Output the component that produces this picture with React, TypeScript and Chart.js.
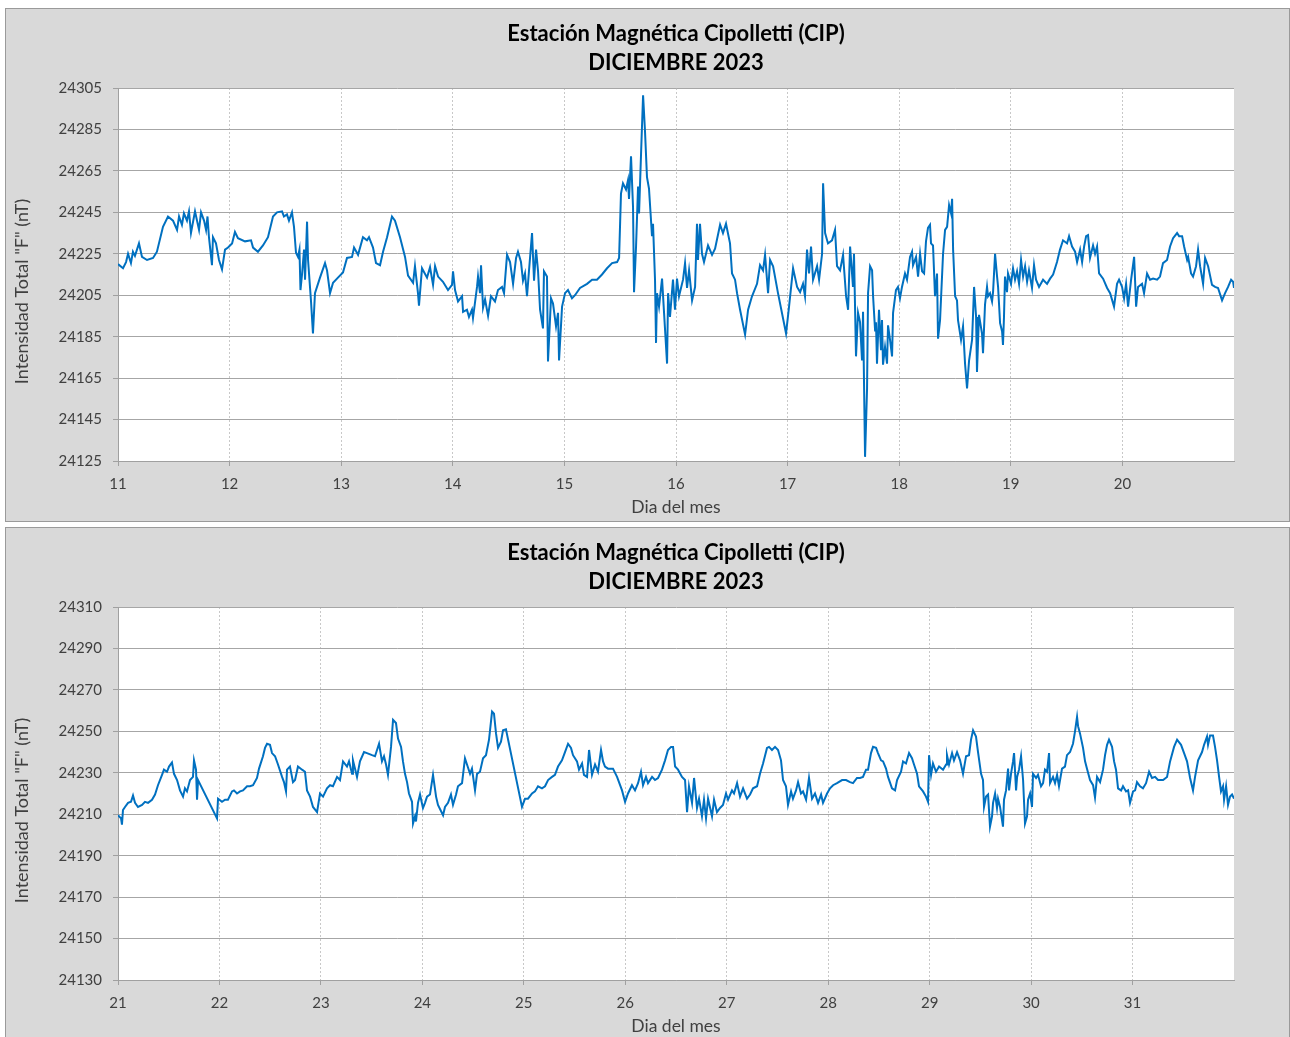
import React, { useEffect, useRef } from "react";
import { Chart, registerables } from "chart.js";

Chart.register(...registerables);

const TITLE_LINES = ["Estación Magnética Cipolletti (CIP)", "DICIEMBRE 2023"];
const X_TITLE = "Dia del mes";
const Y_TITLE = 'Intensidad Total "F" (nT)';

// Top panel: day of month (11..21) and total field F (nT)
const TOP_X_RANGE = [11, 21];
const TOP_Y_RANGE = [24125, 24305];
const topReadings: [number, number][] = [
  [11.0, 24220], [11.045, 24218], [11.072, 24221], [11.09, 24225], [11.116, 24220.5], [11.134, 24226], [11.152, 24224], [11.188, 24230], [11.215, 24223.5], [11.26, 24222],
  [11.314, 24223], [11.349, 24226], [11.403, 24238], [11.448, 24243], [11.493, 24241], [11.529, 24236.5], [11.547, 24243], [11.573, 24239], [11.591, 24244.5], [11.618, 24241],
  [11.636, 24245.5], [11.654, 24235], [11.69, 24245.5], [11.726, 24236.5], [11.744, 24245], [11.771, 24241], [11.789, 24236.5], [11.802, 24243], [11.815, 24233], [11.842, 24219.5],
  [11.851, 24233], [11.878, 24230], [11.905, 24222], [11.932, 24217.5], [11.959, 24227], [11.986, 24228], [12.022, 24230], [12.048, 24235.5], [12.075, 24232.5], [12.138, 24231],
  [12.192, 24231.5], [12.21, 24228], [12.254, 24226], [12.299, 24229], [12.344, 24233], [12.389, 24243], [12.425, 24245], [12.47, 24245.5], [12.487, 24243], [12.514, 24244],
  [12.532, 24241], [12.559, 24245], [12.577, 24238], [12.595, 24225.5], [12.613, 24223.5], [12.626, 24227], [12.635, 24207.5], [12.649, 24215], [12.667, 24227], [12.676, 24212.5],
  [12.694, 24240.5], [12.703, 24222], [12.729, 24202.5], [12.747, 24186.5], [12.765, 24206], [12.81, 24213.5], [12.855, 24220.5], [12.873, 24217], [12.9, 24206], [12.927, 24211],
  [12.971, 24213.5], [13.016, 24216], [13.052, 24223], [13.097, 24223.5], [13.115, 24228], [13.151, 24224.5], [13.195, 24233], [13.231, 24231.5], [13.249, 24233], [13.285, 24228],
  [13.312, 24220.5], [13.348, 24219.5], [13.375, 24226], [13.411, 24233], [13.455, 24243], [13.482, 24241], [13.527, 24233], [13.572, 24223.5], [13.599, 24214.5], [13.644, 24211],
  [13.661, 24219], [13.688, 24206], [13.697, 24200], [13.724, 24218], [13.769, 24213.5], [13.796, 24218.5], [13.823, 24210], [13.841, 24219], [13.868, 24214], [13.912, 24211.5],
  [13.957, 24207.5], [13.993, 24210], [14.002, 24216.5], [14.02, 24207.5], [14.047, 24202], [14.083, 24204.5], [14.092, 24197], [14.127, 24198], [14.145, 24194.5], [14.172, 24198],
  [14.181, 24194], [14.217, 24209], [14.226, 24214], [14.244, 24206], [14.253, 24219.5], [14.271, 24199], [14.289, 24203], [14.316, 24195], [14.342, 24204.5], [14.378, 24202],
  [14.405, 24207.5], [14.441, 24209], [14.459, 24206], [14.486, 24224.5], [14.513, 24221], [14.54, 24210.5], [14.567, 24223], [14.584, 24226], [14.611, 24221], [14.629, 24212],
  [14.647, 24215.5], [14.665, 24204.5], [14.683, 24217], [14.71, 24235], [14.728, 24212], [14.746, 24227], [14.764, 24216.5], [14.782, 24198], [14.808, 24189], [14.817, 24216.5],
  [14.844, 24214], [14.853, 24173], [14.88, 24203.5], [14.898, 24201], [14.925, 24190], [14.943, 24196.5], [14.952, 24173.5], [14.979, 24199.5], [15.006, 24206], [15.032, 24207.5],
  [15.068, 24203.5], [15.095, 24205], [15.14, 24208.5], [15.203, 24210.5], [15.248, 24212.5], [15.292, 24212.5], [15.337, 24215], [15.382, 24218], [15.427, 24220.5], [15.472, 24221],
  [15.49, 24223], [15.507, 24254], [15.525, 24259], [15.552, 24256], [15.57, 24260.5], [15.579, 24251.5], [15.597, 24272], [15.615, 24247.5], [15.624, 24206.5], [15.642, 24228.5],
  [15.66, 24257.5], [15.669, 24244.5], [15.687, 24273.5], [15.705, 24301.5], [15.722, 24284.5], [15.74, 24262], [15.758, 24256.5], [15.785, 24233.5], [15.794, 24239.5], [15.812, 24212.5],
  [15.821, 24182], [15.83, 24206], [15.848, 24199.5], [15.875, 24213], [15.893, 24196.5], [15.92, 24172], [15.929, 24206], [15.946, 24194.5], [15.973, 24212.5], [15.991, 24198],
  [16.009, 24213], [16.027, 24204.5], [16.063, 24212.5], [16.081, 24220.5], [16.099, 24208.5], [16.117, 24217], [16.144, 24202.5], [16.171, 24209], [16.188, 24239.5], [16.197, 24222],
  [16.215, 24239.5], [16.233, 24225], [16.251, 24221], [16.287, 24229], [16.323, 24224.5], [16.35, 24227.5], [16.395, 24239], [16.421, 24235], [16.448, 24239.5], [16.484, 24230],
  [16.502, 24215.5], [16.529, 24212.5], [16.547, 24206], [16.574, 24198], [16.619, 24186], [16.646, 24198], [16.681, 24204.5], [16.726, 24210.5], [16.753, 24219.5], [16.78, 24217],
  [16.798, 24224.5], [16.825, 24206], [16.843, 24222], [16.87, 24219], [16.914, 24206], [16.986, 24186.5], [17.013, 24199.5], [17.049, 24218], [17.085, 24209], [17.112, 24206.5],
  [17.138, 24210.5], [17.156, 24204.5], [17.174, 24227], [17.192, 24215.5], [17.21, 24228.5], [17.228, 24212.5], [17.264, 24219], [17.282, 24212.5], [17.309, 24225], [17.318, 24259],
  [17.336, 24235], [17.362, 24230], [17.398, 24231.5], [17.425, 24236.5], [17.443, 24219], [17.47, 24217], [17.497, 24224.5], [17.524, 24204.5], [17.542, 24198], [17.56, 24228.5],
  [17.586, 24209], [17.595, 24225], [17.613, 24175.5], [17.631, 24196.5], [17.649, 24192], [17.667, 24173.5], [17.676, 24197], [17.694, 24127], [17.712, 24160], [17.721, 24206],
  [17.739, 24219], [17.757, 24217], [17.766, 24204.5], [17.784, 24188], [17.792, 24192], [17.801, 24172], [17.819, 24198], [17.837, 24178.5], [17.846, 24193], [17.855, 24171.5],
  [17.873, 24180], [17.891, 24172], [17.9, 24190.5], [17.918, 24183.5], [17.936, 24175.5], [17.945, 24196.5], [17.971, 24207.5], [17.989, 24209], [18.007, 24203.5], [18.025, 24209],
  [18.052, 24215.5], [18.07, 24212.5], [18.097, 24223.5], [18.115, 24226], [18.124, 24219.5], [18.151, 24223.5], [18.169, 24214], [18.187, 24225], [18.205, 24216.5], [18.223, 24215.5],
  [18.24, 24231], [18.258, 24237.5], [18.276, 24239], [18.285, 24230], [18.303, 24229], [18.321, 24204.5], [18.339, 24215.5], [18.348, 24184], [18.366, 24193], [18.393, 24225],
  [18.411, 24236.5], [18.429, 24238], [18.447, 24248.5], [18.465, 24244.5], [18.474, 24251.5], [18.483, 24227], [18.501, 24204.5], [18.518, 24202.5], [18.527, 24193], [18.554, 24183.5],
  [18.572, 24190], [18.59, 24172], [18.608, 24160], [18.626, 24173.5], [18.653, 24183.5], [18.671, 24209], [18.689, 24194.5], [18.697, 24168], [18.715, 24195.5], [18.742, 24186.5],
  [18.751, 24177], [18.769, 24200.5], [18.787, 24209], [18.796, 24204.5], [18.814, 24206], [18.832, 24202], [18.841, 24206.5], [18.859, 24225], [18.877, 24214], [18.886, 24209],
  [18.904, 24191.5], [18.922, 24187.5], [18.93, 24181], [18.939, 24194.5], [18.948, 24214], [18.966, 24206.5], [18.975, 24215.5], [19.002, 24210.5], [19.02, 24218], [19.038, 24212.5],
  [19.056, 24216.5], [19.074, 24210.5], [19.092, 24222], [19.11, 24214], [19.128, 24219], [19.146, 24211.5], [19.163, 24217], [19.19, 24208.5], [19.208, 24219.5], [19.226, 24212.5],
  [19.253, 24209], [19.289, 24212.5], [19.325, 24210.5], [19.352, 24213], [19.379, 24215], [19.414, 24221], [19.441, 24227], [19.468, 24231.5], [19.504, 24230], [19.522, 24233.5],
  [19.549, 24228.5], [19.576, 24226], [19.594, 24221], [19.621, 24227], [19.639, 24221], [19.657, 24228.5], [19.675, 24233.5], [19.692, 24234], [19.71, 24223], [19.737, 24229],
  [19.755, 24225], [19.773, 24228.5], [19.791, 24215.5], [19.827, 24213], [19.863, 24208.5], [19.89, 24206], [19.925, 24199.5], [19.952, 24210.5], [19.97, 24212.5], [19.997, 24209],
  [20.015, 24203.5], [20.033, 24210.5], [20.051, 24199.5], [20.078, 24212.5], [20.105, 24223.5], [20.123, 24199.5], [20.14, 24209], [20.176, 24210.5], [20.194, 24206], [20.221, 24215.5],
  [20.248, 24212.5], [20.275, 24213], [20.311, 24212.5], [20.337, 24214], [20.364, 24220.5], [20.4, 24222], [20.427, 24228.5], [20.454, 24232.5], [20.49, 24235], [20.508, 24233.5],
  [20.535, 24233.5], [20.553, 24228.5], [20.58, 24222], [20.589, 24223.5], [20.615, 24215.5], [20.633, 24214], [20.66, 24219], [20.678, 24227], [20.696, 24219], [20.723, 24210.5],
  [20.741, 24223], [20.768, 24219], [20.803, 24210], [20.83, 24209], [20.857, 24208.5], [20.893, 24202.5], [20.92, 24206], [20.947, 24209], [20.974, 24212.5], [20.992, 24211.5],
  [21.0, 24208.5],
];

// Bottom panel: day of month (21..32) and total field F (nT)
const BOTTOM_X_RANGE = [21, 32];
const BOTTOM_Y_RANGE = [24130, 24310];
const bottomReadings: [number, number][] = [
  [21.0, 24209.5], [21.03, 24208], [21.039, 24205], [21.049, 24212], [21.069, 24213.5], [21.099, 24215.5], [21.128, 24216], [21.148, 24219], [21.168, 24215.5], [21.197, 24213.5],
  [21.237, 24214.5], [21.266, 24216], [21.296, 24215.5], [21.335, 24217], [21.365, 24219.5], [21.394, 24224], [21.434, 24229], [21.453, 24231.5], [21.483, 24230.5], [21.503, 24233],
  [21.532, 24235], [21.552, 24229.5], [21.582, 24226.5], [21.611, 24221.5], [21.641, 24218.5], [21.66, 24222.5], [21.68, 24221], [21.71, 24226.5], [21.739, 24228], [21.749, 24236],
  [21.769, 24231.5], [21.779, 24217], [21.789, 24226.5], [21.976, 24208], [21.986, 24217.5], [22.025, 24216], [22.055, 24217], [22.084, 24217], [22.124, 24221], [22.143, 24221.5],
  [22.173, 24220], [22.203, 24221], [22.232, 24221.5], [22.272, 24223.5], [22.301, 24223.5], [22.331, 24224], [22.37, 24227.5], [22.39, 24232], [22.429, 24238], [22.449, 24242],
  [22.469, 24244], [22.498, 24243.5], [22.518, 24239.5], [22.548, 24238], [22.577, 24234], [22.617, 24228], [22.636, 24225.5], [22.656, 24221], [22.666, 24231.5], [22.695, 24233],
  [22.725, 24225.5], [22.745, 24226.5], [22.774, 24233], [22.814, 24231.5], [22.843, 24230.5], [22.863, 24221.5], [22.893, 24218.5], [22.922, 24213.5], [22.962, 24211], [22.991, 24220],
  [23.021, 24218.5], [23.06, 24222.5], [23.09, 24224], [23.119, 24223.5], [23.159, 24228], [23.188, 24226.5], [23.218, 24235.5], [23.257, 24233], [23.277, 24235.5], [23.307, 24229.5],
  [23.316, 24236], [23.356, 24228], [23.385, 24235.5], [23.425, 24240], [23.454, 24239.5], [23.504, 24238.5], [23.533, 24238], [23.553, 24241], [23.573, 24244], [23.602, 24235.5],
  [23.622, 24238], [23.642, 24234], [23.661, 24229], [23.691, 24242.5], [23.711, 24255.5], [23.74, 24254], [23.76, 24246.5], [23.79, 24242.5], [23.809, 24235.5], [23.829, 24229.5],
  [23.849, 24225.5], [23.868, 24220], [23.898, 24216], [23.908, 24205.5], [23.928, 24209], [23.937, 24206.5], [23.957, 24215.5], [23.977, 24219.5], [24.006, 24213], [24.026, 24215.5],
  [24.046, 24218.5], [24.075, 24219.5], [24.105, 24229], [24.135, 24218.5], [24.154, 24214.5], [24.204, 24209.5], [24.223, 24213.5], [24.253, 24215.5], [24.282, 24219.5], [24.302, 24214.5],
  [24.332, 24219.5], [24.351, 24223.5], [24.391, 24225], [24.42, 24237], [24.44, 24234], [24.47, 24229.5], [24.489, 24232], [24.519, 24221.5], [24.539, 24229.5], [24.568, 24230.5],
  [24.598, 24237], [24.627, 24238.5], [24.657, 24246], [24.687, 24259.5], [24.706, 24258.5], [24.726, 24249], [24.746, 24242], [24.775, 24245], [24.795, 24250.5], [24.824, 24251],
  [24.982, 24213.5], [25.012, 24217.5], [25.041, 24217.5], [25.081, 24220], [25.11, 24221], [25.14, 24223.5], [25.179, 24222.5], [25.209, 24223.5], [25.239, 24226.5], [25.278, 24228],
  [25.307, 24229], [25.337, 24233], [25.376, 24236], [25.406, 24240], [25.436, 24244], [25.465, 24242], [25.485, 24238.5], [25.524, 24235.5], [25.544, 24231.5], [25.574, 24234.5],
  [25.593, 24229], [25.623, 24228], [25.643, 24241], [25.672, 24229], [25.702, 24234], [25.731, 24230.5], [25.761, 24241], [25.781, 24235.5], [25.8, 24233], [25.83, 24232],
  [25.879, 24232], [25.919, 24228], [25.968, 24221.5], [25.998, 24216], [26.027, 24220], [26.066, 24224], [26.096, 24221.5], [26.126, 24225], [26.155, 24230.5], [26.175, 24224],
  [26.204, 24228], [26.224, 24225], [26.264, 24228], [26.293, 24226.5], [26.323, 24227.5], [26.362, 24231.5], [26.392, 24236], [26.421, 24241], [26.451, 24242.5], [26.471, 24242.5],
  [26.491, 24233], [26.52, 24231.5], [26.559, 24228], [26.589, 24226.5], [26.609, 24211], [26.628, 24223.5], [26.658, 24215.5], [26.678, 24227.5], [26.707, 24213], [26.727, 24217.5],
  [26.756, 24209], [26.776, 24217], [26.796, 24208], [26.816, 24217.5], [26.855, 24209], [26.875, 24217], [26.904, 24211], [26.934, 24213], [26.963, 24214.5], [26.993, 24220],
  [27.013, 24217], [27.052, 24221.5], [27.072, 24220], [27.102, 24225], [27.131, 24218.5], [27.161, 24222.5], [27.2, 24217.5], [27.23, 24219.5], [27.259, 24222.5], [27.299, 24223.5],
  [27.328, 24229.5], [27.358, 24234.5], [27.397, 24242], [27.417, 24242.5], [27.446, 24241], [27.476, 24242.5], [27.506, 24241], [27.535, 24236], [27.555, 24226.5], [27.584, 24223.5],
  [27.604, 24214.5], [27.634, 24221], [27.653, 24217.5], [27.683, 24221.5], [27.703, 24225.5], [27.732, 24220], [27.752, 24221], [27.782, 24217], [27.811, 24227.5], [27.841, 24217.5],
  [27.87, 24220], [27.9, 24215.5], [27.93, 24219.5], [27.949, 24215.5], [27.989, 24220], [28.018, 24222.5], [28.048, 24224], [28.087, 24225], [28.137, 24226.5], [28.176, 24226.5],
  [28.215, 24225.5], [28.245, 24225], [28.284, 24227.5], [28.314, 24227.5], [28.343, 24228], [28.373, 24231.5], [28.393, 24231.5], [28.422, 24239.5], [28.442, 24242.5], [28.472, 24242],
  [28.491, 24239.5], [28.521, 24236], [28.541, 24235.5], [28.57, 24232], [28.59, 24228], [28.629, 24222.5], [28.659, 24221.5], [28.679, 24226.5], [28.718, 24230.5], [28.738, 24235.5],
  [28.767, 24234.5], [28.797, 24239.5], [28.826, 24237], [28.846, 24234], [28.876, 24229.5], [28.895, 24223.5], [28.935, 24221], [28.964, 24218.5], [28.984, 24216], [28.994, 24238.5],
  [29.014, 24229], [29.033, 24234.5], [29.063, 24230.5], [29.093, 24233], [29.132, 24231.5], [29.162, 24234], [29.171, 24238.5], [29.191, 24234], [29.221, 24239.5], [29.24, 24236],
  [29.27, 24240], [29.3, 24236], [29.329, 24229.5], [29.359, 24238], [29.388, 24238.5], [29.408, 24246], [29.428, 24250.5], [29.457, 24247.5], [29.477, 24240], [29.507, 24229.5],
  [29.526, 24226.5], [29.536, 24213.5], [29.556, 24218.5], [29.576, 24219.5], [29.595, 24204], [29.615, 24209], [29.625, 24215.5], [29.645, 24220], [29.664, 24213], [29.674, 24217.5],
  [29.694, 24213.5], [29.723, 24204], [29.733, 24217], [29.753, 24221.5], [29.773, 24232], [29.783, 24221.5], [29.802, 24229.5], [29.822, 24235.5], [29.832, 24239.5], [29.852, 24221.5],
  [29.862, 24228], [29.881, 24231.5], [29.901, 24238], [29.921, 24226.5], [29.94, 24205.5], [29.96, 24209], [29.97, 24217], [29.99, 24220], [30.009, 24213.5], [30.019, 24229.5],
  [30.049, 24227.5], [30.068, 24229], [30.098, 24223.5], [30.118, 24225], [30.137, 24231.5], [30.157, 24230.5], [30.177, 24239.5], [30.187, 24225], [30.216, 24228], [30.236, 24225],
  [30.256, 24229], [30.275, 24223.5], [30.305, 24232], [30.334, 24233], [30.354, 24238.5], [30.384, 24240], [30.413, 24244], [30.433, 24250], [30.453, 24257], [30.463, 24252.5],
  [30.482, 24249], [30.512, 24242], [30.532, 24235.5], [30.551, 24232], [30.581, 24226.5], [30.611, 24224], [30.63, 24218], [30.65, 24228], [30.68, 24225.5], [30.709, 24231.5],
  [30.729, 24238.5], [30.749, 24243.5], [30.768, 24246], [30.798, 24242.5], [30.818, 24235.5], [30.837, 24231.5], [30.857, 24222.5], [30.887, 24221.5], [30.906, 24223.5], [30.936, 24221],
  [30.956, 24221.5], [30.975, 24215.5], [31.005, 24221], [31.025, 24221.5], [31.044, 24225.5], [31.074, 24223.5], [31.103, 24222.5], [31.133, 24225], [31.163, 24230.5], [31.192, 24227.5],
  [31.222, 24228], [31.251, 24226.5], [31.301, 24226.5], [31.34, 24228], [31.37, 24235.5], [31.409, 24242.5], [31.439, 24246], [31.478, 24243.5], [31.508, 24239.5], [31.537, 24235.5],
  [31.567, 24227.5], [31.596, 24221.5], [31.616, 24228], [31.646, 24236], [31.685, 24240], [31.705, 24243.5], [31.734, 24247.5], [31.744, 24243.5], [31.764, 24248], [31.793, 24248],
  [31.813, 24242.5], [31.833, 24236], [31.853, 24228], [31.872, 24221], [31.892, 24223.5], [31.902, 24217], [31.922, 24223.5], [31.941, 24214.5], [31.961, 24218.5], [31.981, 24219.5],
  [32.0, 24217.5],
];

const FONT = "Lato";
const TICK_COLOR = "#404040";
const CANVAS_W = 1283;
const CANVAS_H = 512;

const plotBackground = {
  id: "plotBackground",
  beforeDraw(chart: any) {
    const { ctx, chartArea: a } = chart;
    ctx.save();
    ctx.fillStyle = "#ffffff";
    ctx.fillRect(a.left, a.top, a.right - a.left, a.bottom - a.top);
    ctx.restore();
  },
};

const yAxisTitle = {
  id: "yAxisTitle",
  afterDraw(chart: any) {
    const { ctx, chartArea: a } = chart;
    ctx.save();
    ctx.translate(16, (a.top + a.bottom) / 2 + 17);
    ctx.rotate(-Math.PI / 2);
    ctx.textAlign = "center";
    ctx.textBaseline = "middle";
    ctx.font = `18px ${FONT}`;
    ctx.fillStyle = TICK_COLOR;
    ctx.fillText(Y_TITLE, 0, 0);
    ctx.restore();
  },
};

type PanelProps = {
  readings: [number, number][];
  xRange: number[];
  yRange: number[];
  top: number;
  height: number;
  bottomBorder: boolean;
};

function Panel({ readings, xRange, yRange, top, height, bottomBorder }: PanelProps) {
  const ref = useRef<HTMLCanvasElement | null>(null);

  useEffect(() => {
    if (!ref.current) return;
    const [xMin, xMax] = xRange;
    const [yMin, yMax] = yRange;
    const transparent = "rgba(0,0,0,0)";
    const chart = new Chart(ref.current, {
      type: "line",
      data: {
        datasets: [
          {
            data: readings.map(([d, f]) => ({ x: d, y: f })),
            borderColor: "#0070c0",
            borderWidth: 2,
            pointRadius: 0,
            fill: false,
            tension: 0,
          },
        ],
      },
      options: {
        responsive: false,
        animation: false,
        devicePixelRatio: 1,
        layout: { padding: { left: 0, right: CANVAS_W - 1228, top: 0, bottom: 0 } },
        plugins: {
          legend: { display: false },
          tooltip: { enabled: false },
          title: {
            display: true,
            text: TITLE_LINES,
            fullSize: false,
            color: "#000000",
            font: { family: FONT, size: 22, weight: "bold", lineHeight: "29px" },
            padding: { top: 10, bottom: 11 },
          },
        },
        scales: {
          x: {
            type: "linear",
            min: xMin,
            max: xMax,
            afterFit: (scale: any) => {
              scale.height = CANVAS_H - 452;
            },
            ticks: {
              stepSize: 1,
              autoSkip: false,
              maxRotation: 0,
              padding: 9,
              color: TICK_COLOR,
              font: { family: FONT, size: 15 },
              callback: (v: any) => (Number(v) === xMax ? "" : String(v)),
            },
            grid: {
              color: (c: any) =>
                c.tick && (c.tick.value === xMin || c.tick.value === xMax) ? transparent : "#c8c8c8",
              tickColor: (c: any) => (c.tick && c.tick.value === xMax ? transparent : "#a0a0a0"),
              tickLength: 5,
              tickBorderDash: [],
              lineWidth: 1,
            },
            border: { display: true, color: "#a0a0a0", width: 1, dash: [2, 2] },
            title: {
              display: true,
              text: X_TITLE,
              color: TICK_COLOR,
              font: { family: FONT, size: 17.5 },
              padding: { top: 0, bottom: 3 },
            },
          },
          y: {
            type: "linear",
            min: yMin,
            max: yMax,
            afterFit: (scale: any) => {
              scale.width = 112;
            },
            ticks: {
              stepSize: 20,
              padding: 11,
              color: TICK_COLOR,
              font: { family: FONT, size: 15 },
              callback: (v: any) => String(v),
            },
            grid: {
              color: "#a6a6a6",
              tickColor: "#a0a0a0",
              tickLength: 5,
              lineWidth: 1,
            },
            border: { display: true, color: "#a0a0a0", width: 1 },
          },
        },
      },
      plugins: [plotBackground, yAxisTitle],
    } as any);
    return () => chart.destroy();
  }, [readings, xRange, yRange]);

  return (
    <div
      style={{
        position: "absolute",
        left: 5,
        top,
        width: 1285,
        height,
        boxSizing: "border-box",
        border: "1px solid #9a9a9a",
        borderBottom: bottomBorder ? "1px solid #9a9a9a" : "none",
        background: "#d9d9d9",
        overflow: "hidden",
      }}
    >
      <canvas
        ref={ref}
        width={CANVAS_W}
        height={CANVAS_H}
        style={{ display: "block", width: CANVAS_W, height: CANVAS_H }}
      />
    </div>
  );
}

export default function App() {
  return (
    <div>
      <Panel readings={topReadings} xRange={TOP_X_RANGE} yRange={TOP_Y_RANGE} top={8} height={514} bottomBorder={true} />
      <Panel
        readings={bottomReadings}
        xRange={BOTTOM_X_RANGE}
        yRange={BOTTOM_Y_RANGE}
        top={527}
        height={510}
        bottomBorder={false}
      />
    </div>
  );
}
